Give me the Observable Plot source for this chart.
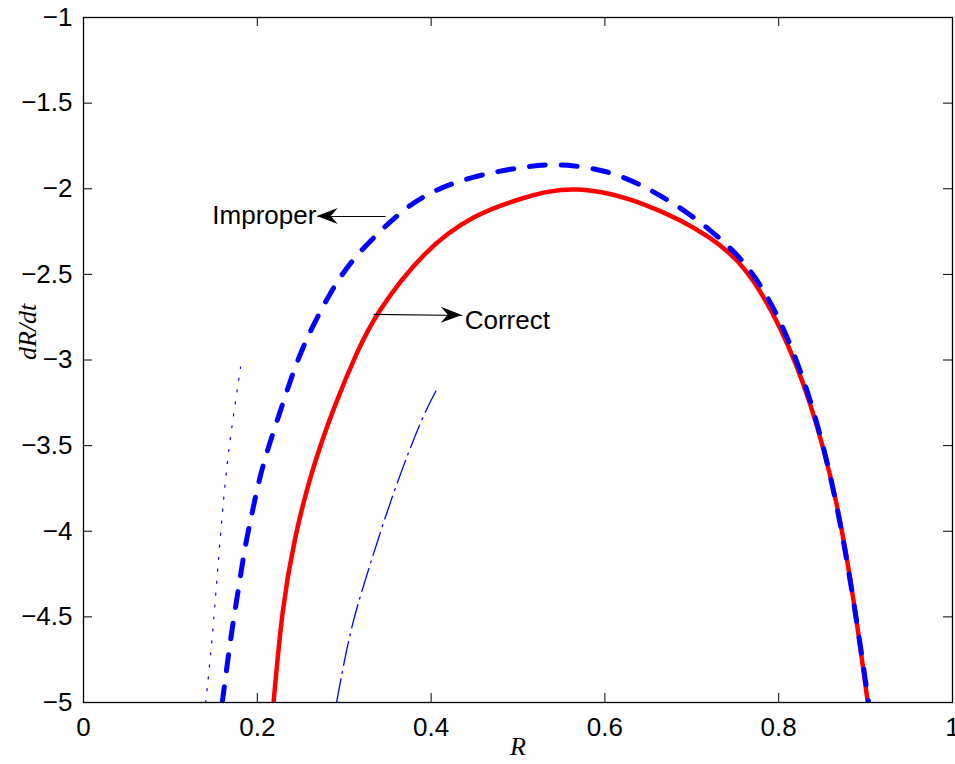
<!DOCTYPE html>
<html>
<head>
<meta charset="utf-8">
<script src="https://cdn.jsdelivr.net/npm/d3@7"></script>
<script src="https://cdn.jsdelivr.net/npm/@observablehq/plot@0.6"></script>
<style>
  html, body { margin: 0; padding: 0; background: #fff; }
</style>
</head>
<body>
<div id="chart"></div>
<script>
// ---- data ----
const correctR = [0.2187, 0.2287, 0.2421, 0.2613, 0.2878, 0.3154, 0.3361, 0.3914, 0.4489, 0.5065, 0.564, 0.6489, 0.7252, 0.764, 0.8023, 0.837, 0.8676, 0.8867, 0.9025];
const correctV = [-5.0, -4.443, -4.054, -3.663, -3.276, -2.945, -2.731, -2.361, -2.15, -2.05, -1.975, -2.08, -2.285, -2.465, -2.799, -3.236, -3.82, -4.404, -5.0];

const improperR = [0.1597, 0.1692, 0.175, 0.1807, 0.1865, 0.1942, 0.2018, 0.2115, 0.223, 0.236, 0.2517, 0.2805, 0.3073, 0.3534, 0.3917, 0.4493, 0.5068, 0.532, 0.5644, 0.5989, 0.6334, 0.6949, 0.7563, 0.7831, 0.8061, 0.8426, 0.8751, 0.9035];
const improperV = [-5.0, -4.628, -4.443, -4.258, -4.073, -3.889, -3.704, -3.528, -3.353, -3.149, -2.925, -2.633, -2.419, -2.185, -2.029, -1.923, -1.872, -1.858, -1.863, -1.893, -1.952, -2.127, -2.39, -2.594, -2.808, -3.295, -4.013, -5.0];

const dottedR = [0.1406, 0.1481, 0.1539, 0.1635, 0.1711, 0.1807];
const dottedV = [-5.0, -4.638, -4.249, -3.665, -3.373, -3.042];

const dashDotR = [0.2912, 0.3073, 0.3265, 0.3457, 0.3687, 0.3917, 0.4063];
const dashDotV = [-5.0, -4.56, -4.249, -3.937, -3.606, -3.314, -3.174];

const xTicks = [0, 0.2, 0.4, 0.6, 0.8, 1];
const xTickLabels = ["0", "0.2", "0.4", "0.6", "0.8", "1"];
const yTicks = [-1, -1.5, -2, -2.5, -3, -3.5, -4, -4.5, -5];
const yTickLabels = ["\u22121", "\u22121.5", "\u22122", "\u22122.5", "\u22123", "\u22123.5", "\u22124", "\u22124.5", "\u22125"];

const annotLabels = ["Improper", "Correct"];
const annotArrowX1 = [0.3476, 0.3338];
const annotArrowY1 = [-2.162, -2.734];
const annotArrowX2 = [0.269, 0.4359];
const annotArrowY2 = [-2.162, -2.740];
const annotTextX = [0.268, 0.4386];
const annotTextY = [-2.158, -2.769];

const xLabel = "R";
const yLabel = "dR/dt";

// ---- build tables ----
const zip = (xs, ys) => xs.map((x, i) => ({x, y: ys[i]}));
const correct = zip(correctR, correctV);
const improper = zip(improperR, improperV);
const dotted = zip(dottedR, dottedV);
const dashDot = zip(dashDotR, dashDotV);
const arrows = annotLabels.map((l, i) => ({x1: annotArrowX1[i], y1: annotArrowY1[i], x2: annotArrowX2[i], y2: annotArrowY2[i]}));
const notes = annotLabels.map((l, i) => ({label: l, x: annotTextX[i], y: annotTextY[i]}));

const W = 955, H = 764, mL = 83, mR = 3, mT = 17, mB = 62;
const innerW = W - mL - mR, innerH = H - mT - mB;
const tick = 9;
const sans = "'Liberation Sans', Arial, Helvetica, sans-serif";
const serif = "'Liberation Serif', 'Times New Roman', Times, serif";
const NS = "http://www.w3.org/2000/svg";

// filled "vback" arrowheads placed through the plot's own scales
function arrowHeads(index, scales) {
  const g = document.createElementNS(NS, "g");
  g.setAttribute("aria-label", "arrowheads");
  arrows.forEach(a => {
    const tx = scales.x(a.x2), ty = scales.y(a.y2);
    const sx = scales.x(a.x1), sy = scales.y(a.y1);
    const ang = Math.atan2(ty - sy, tx - sx) * 180 / Math.PI;
    const p = document.createElementNS(NS, "path");
    p.setAttribute("d", "M0,0L-21,-8L-14,0L-21,8Z");
    p.setAttribute("fill", "#000");
    p.setAttribute("transform", `translate(${tx},${ty}) rotate(${ang})`);
    g.appendChild(p);
  });
  return g;
}

const chart = Plot.plot({
  width: W,
  height: H,
  marginLeft: mL,
  marginRight: mR,
  marginTop: mT,
  marginBottom: mB,
  style: {fontFamily: sans, fontSize: "26px", background: "#fff", color: "#000"},
  x: {domain: [0, 1], ticks: xTicks},
  y: {domain: [-5, -1], ticks: yTicks},
  marks: [
    Plot.line(dotted, {x: "x", y: "y", stroke: "#0000ff", strokeWidth: 1.2, strokeDasharray: "2,10", curve: "basis", clip: true}),
    Plot.line(dashDot, {x: "x", y: "y", stroke: "#0000ff", strokeWidth: 1.3, strokeDasharray: "24,6,2,6", curve: "basis", clip: true}),
    Plot.line(correct, {x: "x", y: "y", stroke: "#ff0000", strokeWidth: 4.5, curve: "basis", clip: true}),
    Plot.line(improper, {x: "x", y: "y", stroke: "#0000ff", strokeWidth: 5, strokeDasharray: "16,16", curve: "basis", clip: true}),
    Plot.link(arrows, {x1: "x1", y1: "y1", x2: "x2", y2: "y2", stroke: "#000", strokeWidth: 1.2}),
    arrowHeads,
    Plot.text(notes.slice(0, 1), {x: "x", y: "y", text: "label", textAnchor: "end", fontSize: 26, fill: "#000"}),
    Plot.text(notes.slice(1), {x: "x", y: "y", text: "label", textAnchor: "start", fontSize: 26, fill: "#000"}),
    // inward tick marks on all four sides
    Plot.ruleX(xTicks, {x: d => d, insetTop: innerH - tick, stroke: "#000", strokeWidth: 1}),
    Plot.ruleX(xTicks, {x: d => d, insetBottom: innerH - tick, stroke: "#000", strokeWidth: 1}),
    Plot.ruleY(yTicks, {y: d => d, insetRight: innerW - tick, stroke: "#000", strokeWidth: 1}),
    Plot.ruleY(yTicks, {y: d => d, insetLeft: innerW - tick, stroke: "#000", strokeWidth: 1}),
    Plot.axisX({anchor: "bottom", ticks: xTicks, tickSize: 0, tickPadding: 15, tickFormat: (d) => xTickLabels[xTicks.indexOf(d)], label: null}),
    Plot.axisY({anchor: "left", ticks: yTicks, tickSize: 0, tickPadding: 11, tickFormat: (d) => yTickLabels[yTicks.indexOf(d)], label: null}),
    Plot.text([xLabel], {frameAnchor: "bottom", dy: 52, text: d => d, fontFamily: serif, fontStyle: "italic", fontSize: 26, fill: "#000"}),
    Plot.text([yLabel], {frameAnchor: "left", dx: -56, rotate: -90, text: d => d, fontFamily: serif, fontStyle: "italic", fontSize: 26, fill: "#000"}),
    Plot.frame({stroke: "#000", strokeWidth: 1.3})
  ]
});
document.getElementById("chart").appendChild(chart);
</script>
</body>
</html>
